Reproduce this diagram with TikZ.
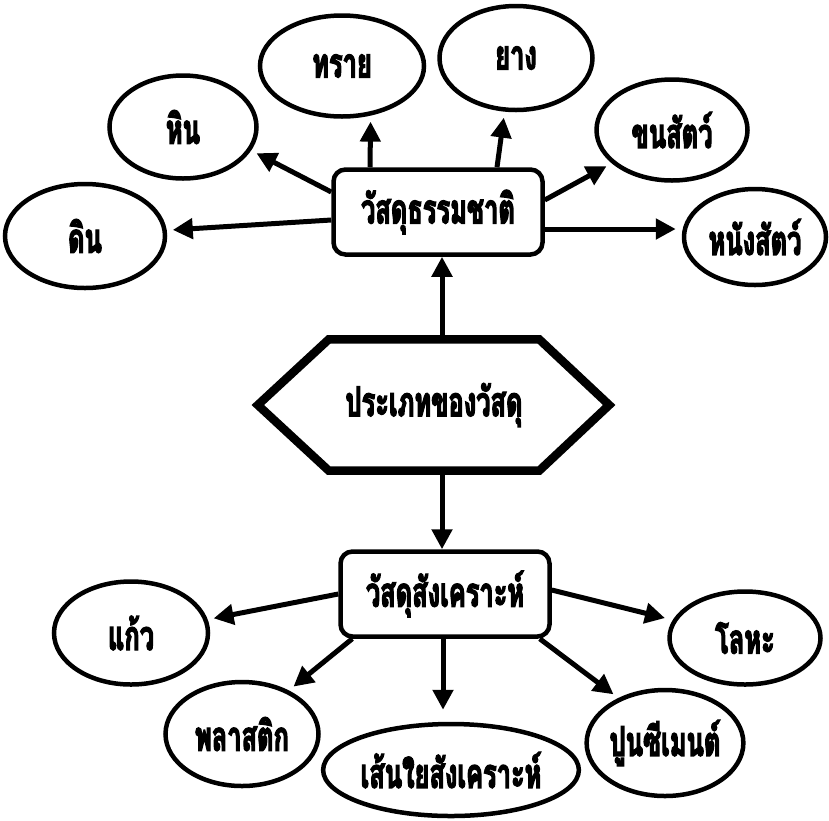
\documentclass[tikz,border=0pt]{standalone}
\usepackage{fontspec}
\newfontfamily\thaifont[Script=Thai,FakeStretch=0.62,FakeBold=3]{Loma}
\usetikzlibrary{arrows.meta,shapes.geometric}
\begin{document}
\begin{tikzpicture}[x=1pt,y=-1pt,
  lbl/.style={font=\thaifont\bfseries\fontsize{41}{44}\selectfont},
  ell/.style={lbl,draw,line width=4.5pt,ellipse,inner sep=0pt},
  catbox/.style={lbl,draw,line width=4.5pt,rectangle,rounded corners=12pt,inner sep=0pt,minimum width=209pt,minimum height=85pt},
  hexbox/.style={lbl,rectangle,inner sep=0pt,minimum width=210pt,minimum height=131pt},
  hexline/.style={line width=8.5pt,line join=miter},
  arr/.style={line width=5pt,-{Triangle[length=20pt,width=20pt]}},
  gap/.style={shorten >=6pt}
]
\useasboundingbox (0,0) rectangle (829,820);

% central hexagon
\node[hexbox] (hex) at (434,405) {ประเภทของวัสดุ};
\draw[hexline] (hex.north west) -- (hex.north east) -- ([xshift=70pt]hex.east)
  -- (hex.south east) -- (hex.south west) -- ([xshift=-71pt]hex.west) -- cycle;

% category boxes
\node[catbox] (nat) at (438,212) {วัสดุธรรมชาติ};
\node[catbox] (syn) at (445,594) {วัสดุสังเคราะห์};

% natural materials
\node[ell,minimum width=160pt,minimum height=104pt] (din) at (85,236) {ดิน};
\node[ell,minimum width=147pt,minimum height=103pt] (hin) at (183,127) {หิน};
\node[ell,minimum width=164pt,minimum height=101pt] (sand) at (342,66) {ทราย};
\node[ell,minimum width=153pt,minimum height=104pt] (rubber) at (516,58) {ยาง};
\node[ell,minimum width=151pt,minimum height=101pt] (wool) at (672,130) {ขนสัตว์};
\node[ell,minimum width=142pt,minimum height=96pt] (leather) at (755,237) {หนังสัตว์};

% synthetic materials
\node[ell,minimum width=154pt,minimum height=103pt] (glass) at (131,633) {แก้ว};
\node[ell,minimum width=153pt,minimum height=104pt] (plastic) at (242,734) {พลาสติก};
\node[ell,minimum width=193pt,minimum height=92pt] (fiber) at (451,770) {เส้นใยสังเคราะห์};
\node[ell,minimum width=151pt,minimum height=93pt] (metal) at (745,638) {โลหะ};
\node[ell,minimum width=156pt,minimum height=106pt] (cement) at (665,743) {ปูนซีเมนต์};

% hexagon to categories
\draw[arr] ([xshift=8pt]hex.north) -- ([xshift=8pt]hex.north |- nat.south);
\draw[arr] ([xshift=8pt]hex.south) -- ([xshift=8pt]hex.south |- syn.north);

% natural arrows
\draw[arr,gap] ([yshift=-8pt]nat.west) -- (din.4);
\draw[arr,gap] ([yshift=20pt]nat.west) -- (hin.-19);
\draw[arr,gap] ([xshift=-68pt]nat.north) -- (sand.-60);
\draw[arr,gap] ([xshift=59pt]nat.north) -- (rubber.-102);
\draw[arr,gap] ([yshift=12pt]nat.east) -- (wool.-151);
\draw[arr,gap] ([yshift=-17pt]nat.east) -- ([yshift=-17pt]nat.east -| leather.west);

% synthetic arrows
\draw[arr,gap] (syn.west) -- (glass.10);
\draw[arr,gap] ([xshift=14pt]syn.south west) -- (plastic.43);
\draw[arr,shorten >=12pt] ([xshift=-2pt]syn.south) -- ([xshift=-2pt]syn.south |- fiber.north);
\draw[arr,gap] ([xshift=-12pt]syn.south east) -- (cement.136);
\draw[arr,shorten >=8pt] ([yshift=4pt]syn.east) -- (metal.166);
\end{tikzpicture}
\end{document}
